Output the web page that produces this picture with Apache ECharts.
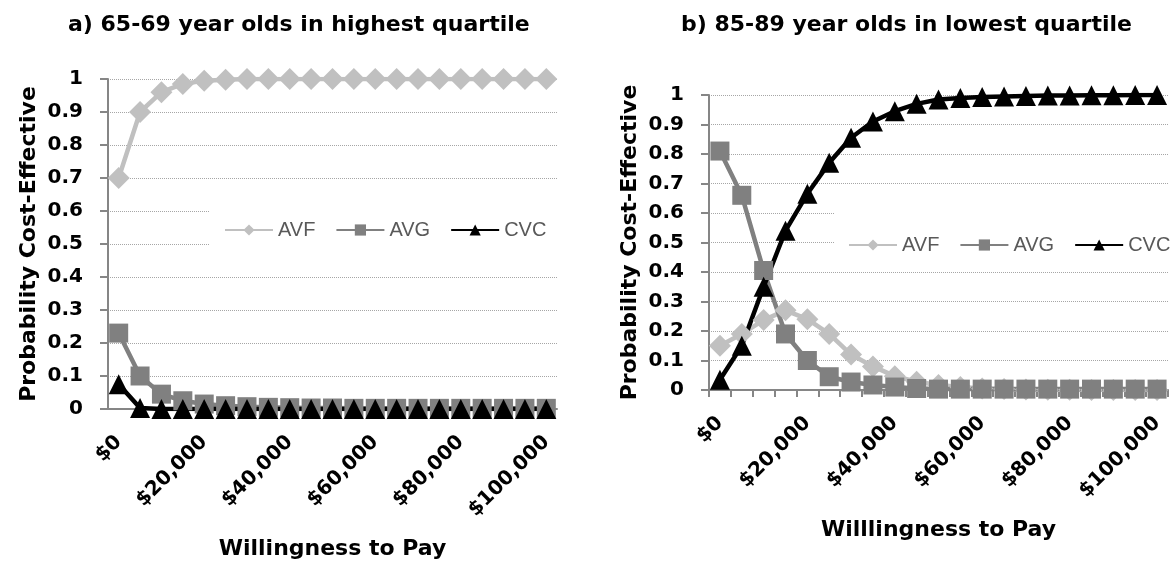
<!DOCTYPE html>
<html>
<head>
<meta charset="utf-8">
<script src="https://cdn.jsdelivr.net/npm/echarts@6/dist/echarts.min.js"></script>
<style>
  html, body { margin: 0; padding: 0; background: #fff; }
  #main { width: 1170px; height: 566px; }
</style>
</head>
<body>
<div id="main"></div>
<script>
  // willingness to pay, $5,000 steps
  var wtp = ['$0', '$5,000', '$10,000', '$15,000', '$20,000', '$25,000', '$30,000', '$35,000',
    '$40,000', '$45,000', '$50,000', '$55,000', '$60,000', '$65,000', '$70,000', '$75,000',
    '$80,000', '$85,000', '$90,000', '$95,000', '$100,000'];

  // a) 65-69 year olds, highest quartile
  var avfA = [0.70, 0.90, 0.96, 0.985, 0.995, 0.998, 1, 1, 1, 1, 1, 1, 1, 1, 1, 1, 1, 1, 1, 1, 1];
  var avgA = [0.23, 0.10, 0.045, 0.025, 0.015, 0.01, 0.007, 0.005, 0.004, 0.003, 0.003,
    0.002, 0.002, 0.002, 0.002, 0.002, 0.002, 0.002, 0.002, 0.002, 0.002];
  var cvcA = [0.075, 0.003, 0, 0, 0, 0, 0, 0, 0, 0, 0, 0, 0, 0, 0, 0, 0, 0, 0, 0, 0];

  // b) 85-89 year olds, lowest quartile
  var avfB = [0.15, 0.19, 0.237, 0.27, 0.24, 0.19, 0.12, 0.08, 0.047, 0.028, 0.017, 0.01,
    0.005, 0.003, 0.002, 0.001, 0.001, 0, 0, 0, 0];
  var avgB = [0.81, 0.66, 0.405, 0.19, 0.10, 0.045, 0.027, 0.017, 0.01, 0.005, 0.003,
    0.003, 0.003, 0.003, 0.003, 0.003, 0.003, 0.003, 0.003, 0.003, 0.003];
  var cvcB = [0.035, 0.15, 0.35, 0.54, 0.665, 0.77, 0.855, 0.91, 0.945, 0.97, 0.985, 0.99,
    0.993, 0.995, 0.997, 0.998, 0.998, 0.999, 0.999, 1, 1];

  var titles = ['a) 65-69 year olds in highest quartile', 'b) 85-89 year olds in lowest quartile'];
  var xNames = ['Willingness to Pay', 'Willlingness to Pay'];
  var yName = 'Probability Cost-Effective';

  var FONT = 'DejaVu Sans, Verdana, sans-serif';
  var LEG_FONT = 'Liberation Sans, Arial, sans-serif';
  var axisGray = '#868686';

  function xAxis(idx, name, ticks) {
    return {
      type: 'category', gridIndex: idx, data: wtp, boundaryGap: true,
      name: name, nameLocation: 'middle', nameGap: 129,
      nameTextStyle: {fontFamily: FONT, fontWeight: 'bold', fontSize: 22, color: '#000'},
      axisLine: {lineStyle: {color: axisGray, width: 2}},
      axisTick: {show: ticks, interval: 0, length: 7, lineStyle: {color: axisGray, width: 2}},
      axisLabel: {
        interval: 3, rotate: 45, margin: 30,
        fontFamily: FONT, fontWeight: 'bold', fontSize: 20, color: '#000'
      },
      splitLine: {show: false}
    };
  }

  function yAxis(idx, gap) {
    return {
      type: 'value', gridIndex: idx, min: 0, max: 1, interval: 0.1,
      name: yName, nameLocation: 'middle', nameGap: gap,
      nameTextStyle: {fontFamily: FONT, fontWeight: 'bold', fontSize: 22, color: '#000'},
      axisLine: {show: true, lineStyle: {color: axisGray, width: 2}},
      axisTick: {show: true, length: 8, lineStyle: {color: axisGray, width: 2}},
      axisLabel: {margin: 25, fontFamily: FONT, fontWeight: 'bold', fontSize: 20, color: '#000'},
      splitLine: {lineStyle: {color: '#a6a6a6', type: 'dotted', width: 1}}
    };
  }

  function line(name, data, idx, color, symbol, size) {
    return {
      name: name, type: 'line', xAxisIndex: idx, yAxisIndex: idx, data: data,
      symbol: symbol, symbolSize: size, showAllSymbol: true,
      lineStyle: {color: color, width: 4.5},
      itemStyle: {color: color},
      emphasis: {disabled: true},
      animation: false
    };
  }

  function legend(left, top, padding) {
    return {
      data: ['AVF', 'AVG', 'CVC'],
      left: left, top: top, width: 380, orient: 'horizontal',
      backgroundColor: '#fff',
      padding: padding,
      itemWidth: 48, itemHeight: 14, itemGap: 20,
      textStyle: {fontFamily: LEG_FONT, fontSize: 20, color: '#595959'},
      selectedMode: false
    };
  }

  var chart = echarts.init(document.getElementById('main'));
  chart.setOption({
    animation: false,
    title: [
      {text: titles[0], left: 63, top: 9,
        textStyle: {fontFamily: FONT, fontWeight: 'bold', fontSize: 22, color: '#000'}},
      {text: titles[1], left: 676, top: 9,
        textStyle: {fontFamily: FONT, fontWeight: 'bold', fontSize: 22, color: '#000'}}
    ],
    grid: [
      {left: 108, top: 79, width: 449, height: 330},
      {left: 709, top: 95, width: 459, height: 295}
    ],
    legend: [legend(210, 198, [22, 14, 14, 14]), legend(834, 205, [30, 2, 12, 14])],
    xAxis: [xAxis(0, xNames[0], false), xAxis(1, xNames[1], true)],
    yAxis: [yAxis(0, 68), yAxis(1, 68)],
    series: [
      line('AVF', avfA, 0, '#c0c0c0', 'diamond', 22),
      line('AVG', avgA, 0, '#808080', 'rect', 19),
      line('CVC', cvcA, 0, '#000000', 'triangle', 20),
      line('AVF', avfB, 1, '#c0c0c0', 'diamond', 22),
      line('AVG', avgB, 1, '#808080', 'rect', 19),
      line('CVC', cvcB, 1, '#000000', 'triangle', 20)
    ]
  });
</script>
</body>
</html>
